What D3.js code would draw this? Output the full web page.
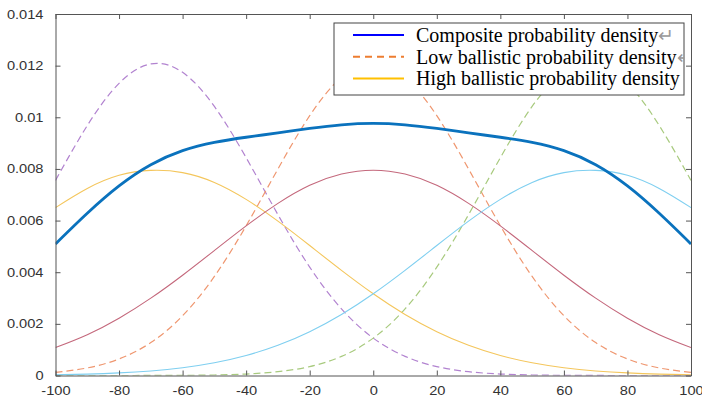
<!DOCTYPE html>
<html>
<head>
<meta charset="utf-8">
<script src="https://cdn.jsdelivr.net/npm/d3@7"></script>
<style>
body { margin: 0; background: #fff; }
svg { display: block; }
</style>
</head>
<body>
<svg></svg>
<script>
var xs = [-100, -90, -80, -70, -60, -50, -40, -30, -20, -10, 0, 10, 20, 30, 40, 50, 60, 70, 80, 90, 100];

// low ballistic (dashed)
var lowLeft = [0.007555, 0.009681, 0.011316, 0.012068, 0.011740, 0.010419, 0.008435, 0.006230, 0.004198, 0.002580, 0.001447, 0.000740, 0.000345, 0.000147, 0.000057, 0.000020, 0.000007, 0.000002, 0, 0, 0];
var lowMid = [0.000122, 0.000293, 0.000640, 0.001274, 0.002315, 0.003836, 0.005799, 0.007998, 0.010062, 0.011548, 0.012090, 0.011548, 0.010062, 0.007998, 0.005799, 0.003836, 0.002315, 0.001274, 0.000640, 0.000293, 0.000122];
var lowRight = [0, 0, 0, 0.000002, 0.000007, 0.000020, 0.000057, 0.000147, 0.000345, 0.000740, 0.001447, 0.002580, 0.004198, 0.006230, 0.008435, 0.010419, 0.011740, 0.012068, 0.011316, 0.009681, 0.007555];

// high ballistic (solid)
var highLeft = [0.006501, 0.007243, 0.007752, 0.007943, 0.007858, 0.007478, 0.006821, 0.005977, 0.005033, 0.004072, 0.003165, 0.002363, 0.001696, 0.001169, 0.000774, 0.000493, 0.000301, 0.000177, 0.000100, 0.000054, 0.000028];
var highMid = [0.001080, 0.001579, 0.002218, 0.002995, 0.003884, 0.004840, 0.005794, 0.006665, 0.007366, 0.007801, 0.007949, 0.007801, 0.007366, 0.006665, 0.005794, 0.004840, 0.003884, 0.002995, 0.002218, 0.001579, 0.001080];
var highRight = [0.000028, 0.000054, 0.000100, 0.000177, 0.000301, 0.000493, 0.000774, 0.001169, 0.001696, 0.002363, 0.003165, 0.004072, 0.005033, 0.005977, 0.006821, 0.007478, 0.007858, 0.007943, 0.007752, 0.007243, 0.006501];

var composite = [0.005095, 0.006283, 0.007342, 0.008163, 0.008708, 0.009029, 0.009227, 0.009395, 0.009567, 0.009708, 0.009764, 0.009708, 0.009567, 0.009395, 0.009227, 0.009029, 0.008708, 0.008163, 0.007342, 0.006283, 0.005095];

var xTicks = [-100, -80, -60, -40, -20, 0, 20, 40, 60, 80, 100];
var yTicks = [0, 0.002, 0.004, 0.006, 0.008, 0.01, 0.012, 0.014];
var yTickLabels = ["0", "0.002", "0.004", "0.006", "0.008", "0.01", "0.012", "0.014"];

var legendLabels = ["Composite probability density", "Low ballistic probability density", "High ballistic probability density"];

var width = 702, height = 400;
var svg = d3.select("svg").attr("width", width).attr("height", height);

var pLeft = 55.5, pRight = 691, pTop = 14, pBottom = 375.5;
var x = d3.scaleLinear().domain([-100, 100]).range([pLeft, pRight]);
var y = d3.scaleLinear().domain([0, 0.014]).range([pBottom, pTop]);

svg.append("clipPath").attr("id", "plotclip")
    .append("rect").attr("x", pLeft).attr("y", pTop - 1).attr("width", pRight - pLeft).attr("height", pBottom - pTop + 1);

var line = d3.line()
    .x(function (d, i) { return x(xs[i]); })
    .y(function (d) { return y(d); })
    .curve(d3.curveNatural);

var series = [
    { v: lowLeft, color: "#b283d0", dash: "7,4", w: 1.2 },
    { v: lowMid, color: "#ef9770", dash: "7,4", w: 1.2 },
    { v: lowRight, color: "#a8ca7e", dash: "7,4", w: 1.2 },
    { v: highLeft, color: "#f4c65c", dash: null, w: 1.1 },
    { v: highMid, color: "#c4687c", dash: null, w: 1.1 },
    { v: highRight, color: "#7fcff0", dash: null, w: 1.1 },
    { v: composite, color: "#0a72bd", dash: null, w: 2.8 }
];

var g = svg.append("g").attr("clip-path", "url(#plotclip)");
series.forEach(function (s) {
    g.append("path")
        .attr("d", line(s.v))
        .attr("fill", "none")
        .attr("stroke", s.color)
        .attr("stroke-width", s.w)
        .attr("stroke-dasharray", s.dash);
});

// axes box with inward ticks
var axisColor = "#555";
function stretch(sel) {
    sel.each(function () {
        var len = this.getComputedTextLength();
        d3.select(this).attr("textLength", len * 1.17).attr("lengthAdjust", "spacingAndGlyphs");
    });
}

var xAxis = svg.append("g").attr("transform", "translate(0," + pBottom + ")")
    .call(d3.axisBottom(x).tickValues(xTicks).tickSizeInner(-5).tickSizeOuter(0).tickPadding(11)
        .tickFormat(function (d) { return String(d); }));
var xTop = svg.append("g").attr("transform", "translate(0," + pTop + ")")
    .call(d3.axisTop(x).tickValues(xTicks).tickSizeInner(-5).tickSizeOuter(0).tickFormat(""));
var yAxis = svg.append("g").attr("transform", "translate(" + pLeft + ",0)")
    .call(d3.axisLeft(y).tickValues(yTicks).tickSizeInner(-5).tickSizeOuter(0).tickPadding(12)
        .tickFormat(function (d, i) { return yTickLabels[i]; }));
var yRight = svg.append("g").attr("transform", "translate(" + pRight + ",0)")
    .call(d3.axisRight(y).tickValues(yTicks).tickSizeInner(-5).tickSizeOuter(0).tickFormat(""));

[xAxis, xTop, yAxis, yRight].forEach(function (a) {
    a.selectAll("path").attr("stroke", axisColor);
    a.selectAll("line").attr("stroke", axisColor);
    a.selectAll("text").attr("fill", "#333").style("font-family", "Liberation Sans, Arial, sans-serif").style("font-size", "12.5px");
});
stretch(xAxis.selectAll("text"));
stretch(yAxis.selectAll("text"));

// legend
var lx = 334, ly = 23, lw = 350, lh = 72;
svg.append("clipPath").attr("id", "legclip")
    .append("rect").attr("x", lx).attr("y", ly).attr("width", lw).attr("height", lh);
var leg = svg.append("g");
leg.append("rect").attr("x", lx).attr("y", ly).attr("width", lw).attr("height", lh)
    .attr("fill", "#fff").attr("stroke", "#444").attr("stroke-width", 1);

var legColors = ["#0000ff", "#ed7d31", "#ffc000"];
var legDash = [null, "7,5", null];
var legMarks = ["\u21b5", "\u21b5", ""];
var lg = leg.append("g").attr("clip-path", "url(#legclip)");
legendLabels.forEach(function (t, i) {
    var cy = 35 + i * 21.7;
    lg.append("line").attr("x1", 353).attr("x2", 404).attr("y1", cy).attr("y2", cy)
        .attr("stroke", legColors[i]).attr("stroke-width", 2).attr("stroke-dasharray", legDash[i]);
    var txt = lg.append("text").attr("x", 416).attr("y", cy + 7)
        .style("font-family", "Liberation Serif, Times New Roman, serif").style("font-size", "20px")
        .attr("fill", "#000");
    txt.append("tspan").text(t);
    if (legMarks[i]) txt.append("tspan").attr("fill", "#999").style("font-size", "19px").text(legMarks[i]);
});
</script>
</body>
</html>
